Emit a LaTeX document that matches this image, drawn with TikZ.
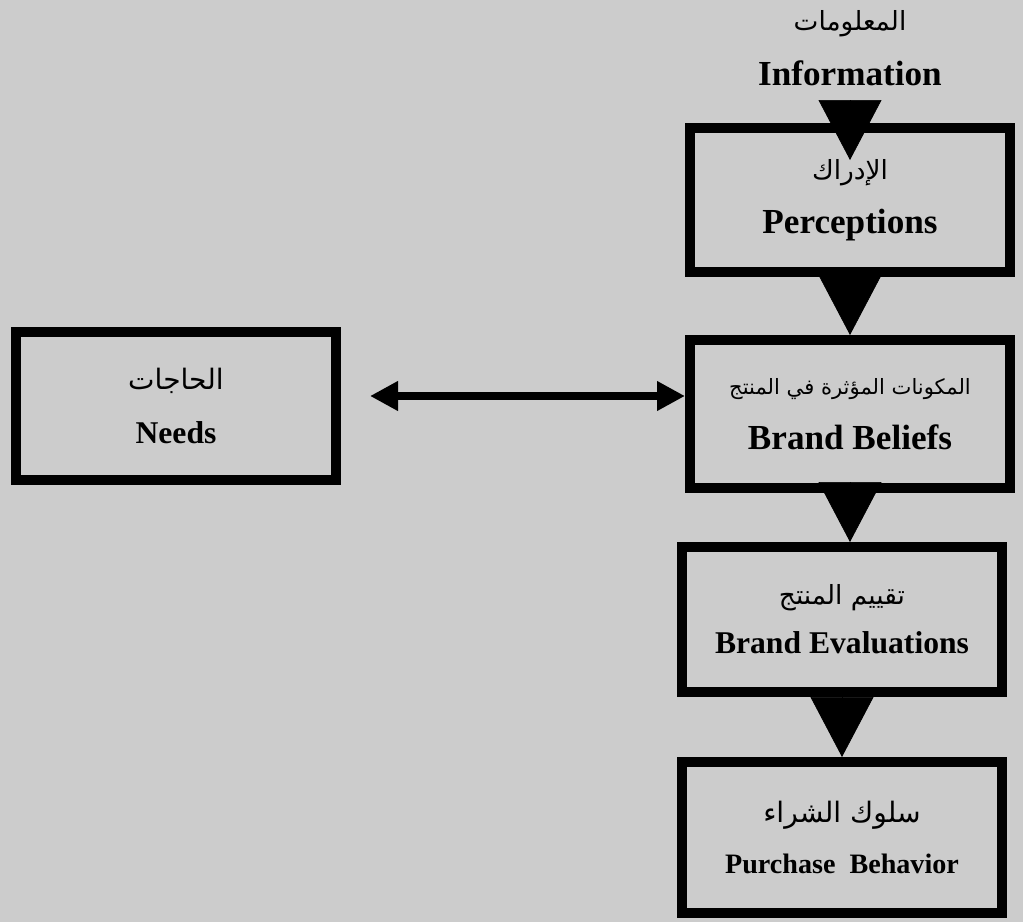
\documentclass[tikz,border=0pt]{standalone}
\usepackage{fontspec}
\setmainfont{Liberation Serif}
\newfontfamily\arabicfont[Script=Arabic]{DejaVu Sans}
\TeXXeTstate=1
\usepackage{tikz}
\usetikzlibrary{shapes, arrows.meta, positioning}
\definecolor{paper}{HTML}{CCCCCC}
\newcommand{\arsize}[1]{\arabicfont\fontsize{#1}{31}\selectfont}
\newcommand{\ensize}[1]{\fontsize{#1}{31}\selectfont\bfseries}
\tikzstyle{stage} = [rectangle, draw, line width=0.2cm, fill=paper,
    text centered, align=center, minimum width=6.4cm, minimum height=2.9cm,
    font=\fontsize{18}{31}\selectfont]
\tikzstyle{source} = [align=center, text centered, font=\fontsize{18}{31}\selectfont]
\tikzstyle{flow} = [draw, line width=0.4pt, -{Triangle[length=1.2cm, width=1.26cm]}]
\tikzstyle{link} = [draw, line width=0.16cm,
    {Triangle[length=0.56cm, width=0.56cm]}-{Triangle[length=0.56cm, width=0.56cm]}]

\begin{document}
\begin{tikzpicture}[node distance = 2cm, auto]
    % Page
    \path [fill=paper] (0,0) rectangle (20.46,-18.44);
    % Nodes
    \node [stage, minimum height=2.88cm] (perceptions) at (17.0,-4.0)
        {{\arsize{15}\beginR الإدراك\endR}\\ {\ensize{20}Perceptions}};
    \node [source, above=0.62cm of perceptions] (information)
        {{\arsize{15}\beginR المعلومات\endR}\\ {\ensize{20}Information}};
    \node [stage, minimum height=2.96cm, below=1.16cm of perceptions] (beliefs)
        {{\arsize{12}\beginR المكونات المؤثرة في المنتج\endR}\\ {\ensize{20}Brand Beliefs}};
    \node [stage, minimum height=2.9cm, below=0.98cm of beliefs, xshift=-0.16cm] (evaluations)
        {{\arsize{15}\beginR تقييم المنتج\endR}\\[-3pt] {\ensize{18}Brand Evaluations}};
    \node [stage, minimum height=3.02cm, below=1.2cm of evaluations] (purchase)
        {{\arsize{16}\beginR سلوك الشراء\endR}\\[-2pt] {\ensize{16}Purchase\ \ Behavior}};
    \node [stage, minimum height=2.96cm, left=6.88cm of beliefs, yshift=0.16cm] (needs)
        {{\arsize{16}\beginR الحاجات\endR}\\ {\ensize{18}Needs}};
    \coordinate (entry) at ([yshift=-0.74cm]perceptions.north);
    \coordinate (needsout) at ([yshift=0.2cm]needs.east);
    % Edges
    \path [flow, shorten <=0.2cm] (information.south) -- (information.south |- entry);
    \path [flow] (perceptions.south) -- (perceptions.south |- beliefs.north);
    \path [flow] (beliefs.south) -- (beliefs.south |- evaluations.north);
    \path [flow] (evaluations.south) -- (evaluations.south |- purchase.north);
    \path [link] ([xshift=0.58cm]needsout) -- (needsout -| beliefs.west);
\end{tikzpicture}
\end{document}
